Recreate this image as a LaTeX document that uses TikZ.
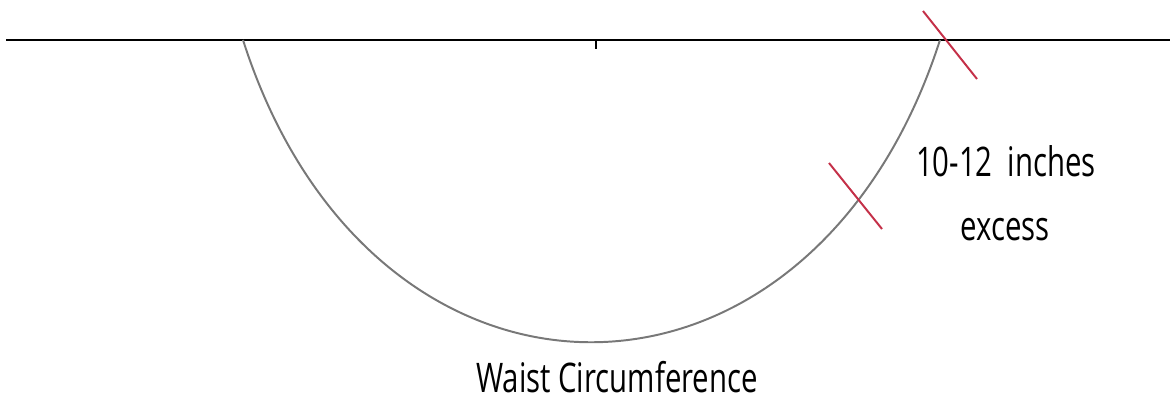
\documentclass[tikz,border=0pt]{standalone}
\usepackage{fontspec}
\setmainfont{Open Sans}
\usepackage{graphicx}
\definecolor{tickred}{RGB}{196,48,72}
\definecolor{curvegray}{RGB}{120,120,120}
\tikzset{
  label text/.style={font=\fontsize{29}{34}\selectfont, inner sep=0pt, anchor=base},
  cut mark/.style={tickred, line width=1.4pt},
}
\newcommand{\narrow}[1]{\scalebox{0.72}[1]{#1}}
\begin{document}
\begin{tikzpicture}[x=0.025cm,y=-0.025cm]
	\useasboundingbox (0,0) rectangle (1170,400);
	% waist line
	\draw[line width=1.4pt] (6,40)--(1170,40);
	\draw[line width=1.5pt] (596,40)--(596,49);
	% circumference curve
	\coordinate (left) at (243,40);
	\coordinate (right) at (940,40);
	\draw[curvegray, line width=1.4pt] (left) .. controls (372,443) and (810,443) .. (right);
	% cut marks
	\draw[cut mark] (923,11)--(977,79);
	\draw[cut mark] (829,163)--(882,229);
	% labels
	\node[label text] (excess1) at (1006,177) {\narrow{10-12~~inches}};
	\node[label text] (excess2) at (1005,240) {\narrow{excess}};
	\node[label text] (waist) at (617,392) {\narrow{Waist Circumference}};
\end{tikzpicture}
\end{document}
